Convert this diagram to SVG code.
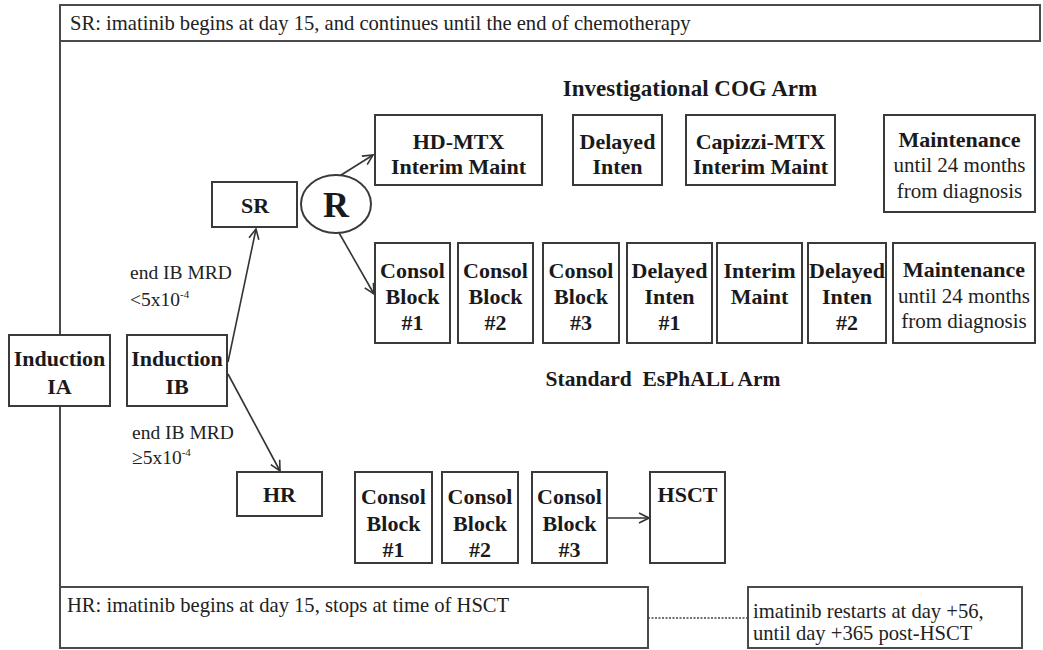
<svg xmlns="http://www.w3.org/2000/svg" width="1043" height="650" viewBox="0 0 1043 650">
<defs>
<style>
.box{fill:#fff;stroke:#3a3a3a;stroke-width:2}
.frame{fill:none;stroke:#4a4a4a;stroke-width:2}
.b{font-family:"Liberation Serif","Times New Roman",serif;font-weight:bold;font-size:22px;fill:#1a1a1a;text-anchor:middle}
.n{font-family:"Liberation Serif","Times New Roman",serif;font-size:21px;fill:#222;text-anchor:middle}
.l{font-family:"Liberation Serif","Times New Roman",serif;font-size:20.6px;fill:#222}
.h{font-family:"Liberation Serif","Times New Roman",serif;font-weight:bold;font-size:22px;fill:#1a1a1a;text-anchor:middle}
.c{stroke:#333;stroke-width:1.6;fill:none}
</style>
<marker id="ah" viewBox="0 0 12 12" refX="11" refY="6" markerWidth="12" markerHeight="12" markerUnits="userSpaceOnUse" orient="auto">
<path d="M1,1 L11,6 L1,11" fill="none" stroke="#333" stroke-width="1.6"/>
</marker>
</defs>
<rect width="1043" height="650" fill="#fff"/>

<g id="frame">
<rect class="frame" x="60" y="5" width="980" height="36"/>
<text class="l" x="70" y="30">SR: imatinib begins at day 15, and continues until the end of chemotherapy</text>
<line class="frame" x1="60" y1="41" x2="60" y2="587"/>
</g>

<g id="connectors">
<line class="c" x1="228" y1="362" x2="256" y2="229" marker-end="url(#ah)"/>
<line class="c" x1="228" y1="374" x2="280" y2="471" marker-end="url(#ah)"/>
<line class="c" x1="338" y1="177" x2="373" y2="155" marker-end="url(#ah)"/>
<line class="c" x1="338" y1="231" x2="374" y2="294" marker-end="url(#ah)"/>
<line class="c" x1="607" y1="518" x2="649" y2="518" marker-end="url(#ah)"/>
<line x1="648" y1="618" x2="748" y2="618" stroke="#444" stroke-width="1.5" stroke-dasharray="2,1.5"/>
</g>

<text class="h" x="690" y="96" style="font-size:23px">Investigational COG Arm</text>
<text class="h" x="663" y="386" style="font-size:21.5px" xml:space="preserve">Standard  EsPhALL Arm</text>

<g id="labels">
<text class="l" x="130" y="279" style="font-size:19.5px">end IB MRD</text>
<text class="l" x="130" y="306" style="font-size:19.5px">&lt;5x10<tspan style="font-size:11px" dy="-8">-4</tspan></text>
<text class="l" x="132" y="439" style="font-size:19.5px">end IB MRD</text>
<text class="l" x="132" y="464" style="font-size:19.5px">≥5x10<tspan style="font-size:11px" dy="-8">-4</tspan></text>
</g>

<g id="inductionIA">
<rect class="box" x="9" y="335" width="101" height="71"/>
<text class="b" x="59.5" y="366">Induction</text>
<text class="b" x="59.5" y="394">IA</text>
</g>
<g id="inductionIB">
<rect class="box" x="127" y="335" width="100" height="71"/>
<text class="b" x="177" y="366">Induction</text>
<text class="b" x="177" y="394">IB</text>
</g>
<g id="sr">
<rect class="box" x="212" y="182" width="85" height="45"/>
<text class="b" x="255" y="213">SR</text>
</g>
<g id="r">
<ellipse class="box" cx="336" cy="204" rx="35" ry="29"/>
<text class="b" x="336" y="217" style="font-size:36px">R</text>
</g>
<g id="hr">
<rect class="box" x="237" y="472" width="85" height="44"/>
<text class="b" x="279.5" y="502">HR</text>
</g>

<g id="hdmtx">
<rect class="box" x="375" y="115" width="167" height="70"/>
<text class="b" x="458.5" y="149">HD-MTX</text>
<text class="b" x="458.5" y="174">Interim Maint</text>
</g>
<g id="delayed">
<rect class="box" x="573" y="115" width="89" height="70"/>
<text class="b" x="617.5" y="149">Delayed</text>
<text class="b" x="617.5" y="174">Inten</text>
</g>
<g id="capizzi">
<rect class="box" x="686" y="115" width="149" height="70"/>
<text class="b" x="760.5" y="149">Capizzi-MTX</text>
<text class="b" x="760.5" y="174">Interim Maint</text>
</g>
<g id="maint1">
<rect class="box" x="884" y="115" width="151" height="97"/>
<text class="b" x="959.5" y="147">Maintenance</text>
<text class="n" x="959.5" y="172">until 24 months</text>
<text class="n" x="959.5" y="198">from diagnosis</text>
</g>

<g id="s-consol1">
<rect class="box" x="375" y="243" width="75" height="100"/>
<text class="b" x="412.5" y="278">Consol</text>
<text class="b" x="412.5" y="304">Block</text>
<text class="b" x="412.5" y="330">#1</text>
</g>
<g id="s-consol2">
<rect class="box" x="458" y="243" width="75" height="100"/>
<text class="b" x="495.5" y="278">Consol</text>
<text class="b" x="495.5" y="304">Block</text>
<text class="b" x="495.5" y="330">#2</text>
</g>
<g id="s-consol3">
<rect class="box" x="543" y="243" width="76" height="100"/>
<text class="b" x="581" y="278">Consol</text>
<text class="b" x="581" y="304">Block</text>
<text class="b" x="581" y="330">#3</text>
</g>
<g id="s-di1">
<rect class="box" x="627" y="243" width="85" height="100"/>
<text class="b" x="669.5" y="278">Delayed</text>
<text class="b" x="669.5" y="304">Inten</text>
<text class="b" x="669.5" y="330">#1</text>
</g>
<g id="s-im">
<rect class="box" x="717" y="243" width="85" height="100"/>
<text class="b" x="759.5" y="278">Interim</text>
<text class="b" x="759.5" y="304">Maint</text>
</g>
<g id="s-di2">
<rect class="box" x="808" y="243" width="78" height="100"/>
<text class="b" x="847" y="278">Delayed</text>
<text class="b" x="847" y="304">Inten</text>
<text class="b" x="847" y="330">#2</text>
</g>
<g id="maint2">
<rect class="box" x="893" y="243" width="142" height="100"/>
<text class="b" x="964" y="277">Maintenance</text>
<text class="n" x="964" y="303">until 24 months</text>
<text class="n" x="964" y="328">from diagnosis</text>
</g>

<g id="h-consol1">
<rect class="box" x="355" y="472" width="77" height="91"/>
<text class="b" x="393.5" y="504">Consol</text>
<text class="b" x="393.5" y="531">Block</text>
<text class="b" x="393.5" y="557">#1</text>
</g>
<g id="h-consol2">
<rect class="box" x="442" y="472" width="76" height="91"/>
<text class="b" x="480" y="504">Consol</text>
<text class="b" x="480" y="531">Block</text>
<text class="b" x="480" y="557">#2</text>
</g>
<g id="h-consol3">
<rect class="box" x="532" y="472" width="75" height="91"/>
<text class="b" x="569.5" y="504">Consol</text>
<text class="b" x="569.5" y="531">Block</text>
<text class="b" x="569.5" y="557">#3</text>
</g>
<g id="hsct">
<rect class="box" x="650" y="472" width="75" height="91"/>
<text class="b" x="687.5" y="502">HSCT</text>
</g>

<g id="hrnote">
<rect class="frame" x="60" y="587" width="588" height="61"/>
<text class="l" x="67" y="612">HR: imatinib begins at day 15, stops at time of HSCT</text>
</g>
<g id="restart">
<rect class="frame" x="748" y="587" width="274" height="61"/>
<text class="l" x="753" y="618">imatinib restarts at day +56,</text>
<text class="l" x="753" y="640">until day +365 post-HSCT</text>
</g>
</svg>
